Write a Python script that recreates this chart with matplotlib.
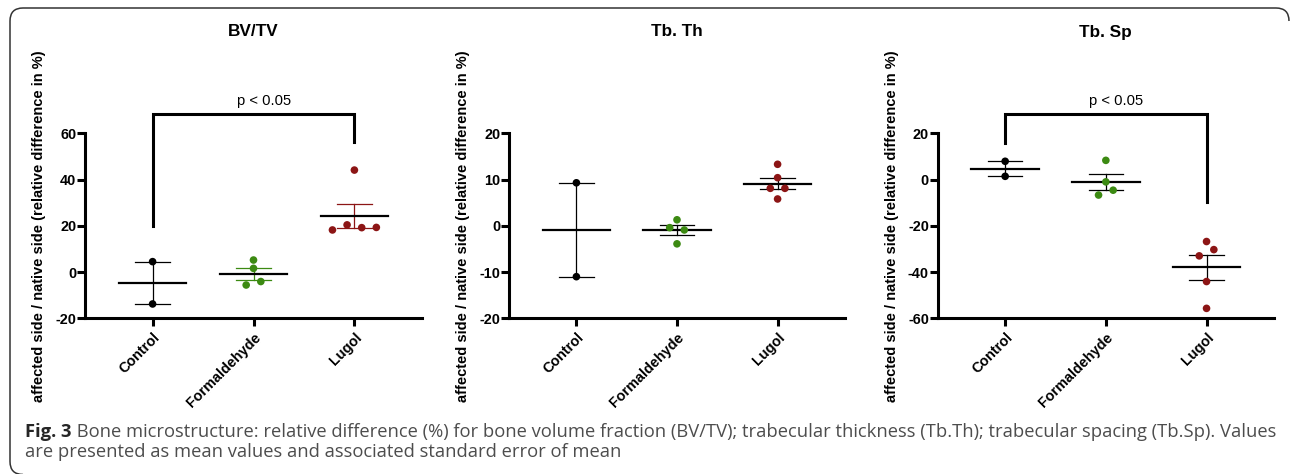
import numpy as np
import matplotlib
matplotlib.use("Agg")
import matplotlib.pyplot as plt
from matplotlib.patches import PathPatch
from matplotlib.path import Path
from matplotlib.transforms import IdentityTransform

plt.rcParams['font.family'] = ['Liberation Sans', 'DejaVu Sans']

# --- data ---
groups = ["Control", "Formaldehyde", "Lugol"]
group_colors = ["#000000", "#3c8a12", "#8c1515"]

bvtv_control = [4.5, -13.8]
bvtv_formaldehyde = [5.2, 1.6, -5.6, -4.1]
bvtv_lugol = [18.2, 20.4, 19.2, 19.3, 44.1]

tbth_control = [9.3, -11.0]
tbth_formaldehyde = [1.3, -0.4, -0.9, -3.9]
tbth_lugol = [13.3, 10.4, 8.1, 8.1, 5.8]

tbsp_control = [7.9, 1.4]
tbsp_formaldehyde = [8.3, -1.0, -6.7, -4.6]
tbsp_lugol = [-26.8, -33.0, -30.3, -44.1, -55.7]

ylabel = "affected side / native side (relative difference in %)"

panels = [
    dict(title="BV/TV", data=[bvtv_control, bvtv_formaldehyde, bvtv_lugol],
         ylim=(-20, 60), yticks=[-20, 0, 20, 40, 60], colored_err=True,
         bracket=(0, 2, 68.2, 20.0, 56.4, "p < 0.05")),
    dict(title="Tb. Th", data=[tbth_control, tbth_formaldehyde, tbth_lugol],
         ylim=(-20, 20), yticks=[-20, -10, 0, 10, 20], colored_err=False,
         bracket=None),
    dict(title="Tb. Sp", data=[tbsp_control, tbsp_formaldehyde, tbsp_lugol],
         ylim=(-60, 20), yticks=[-60, -40, -20, 0, 20], colored_err=False,
         bracket=(0, 2, 28.2, 15.7, -9.8, "p < 0.05")),
]

caption_bold = "Fig. 3"
caption_line1 = (" Bone microstructure: relative difference (%) for bone volume fraction (BV/TV); "
                 "trabecular thickness (Tb.Th); trabecular spacing (Tb.Sp). Values")
caption_line2 = "are presented as mean values and associated standard error of mean"

W, H = 1290, 474
# axes boxes in pixels: left, top, right, bottom
boxes = [(85, 133.3, 422, 318.3), (509, 133.3, 845, 318.3), (937.7, 133.3, 1274, 318.3)]


def swarm_offsets(vals, thr, step):
    # spread points that would overlap side by side (GraphPad-like scatter)
    vals = np.asarray(vals, dtype=float)
    order = np.argsort(vals, kind="stable")
    offs = np.zeros(len(vals))
    clusters, cur = [], [order[0]]
    for a, b in zip(order[:-1], order[1:]):
        if vals[b] - vals[a] < thr:
            cur.append(b)
        else:
            clusters.append(cur)
            cur = [b]
    clusters.append(cur)
    for c in clusters:
        c = sorted(c)
        n = len(c)
        for k, idx in enumerate(c):
            offs[idx] = (k - (n - 1) / 2) * step
    return offs


fig = plt.figure(figsize=(W / 100, H / 100), dpi=100)

for p, (l, t, r, b) in zip(panels, boxes):
    ax = fig.add_axes([l / W, 1 - b / H, (r - l) / W, (b - t) / H])
    ylo, yhi = p["ylim"]
    thr = 0.037 * (yhi - ylo)
    for i, (vals, col) in enumerate(zip(p["data"], group_colors)):
        vals = np.asarray(vals, dtype=float)
        m = vals.mean()
        sem = vals.std(ddof=1) / np.sqrt(len(vals))
        ecol = col if p["colored_err"] else "black"
        ax.plot([i, i], [m - sem, m + sem], color=ecol, lw=0.9, zorder=2)
        for yv in (m - sem, m + sem):
            ax.plot([i - 0.17, i + 0.17], [yv, yv], color=ecol, lw=0.9, zorder=2)
        ax.plot([i - 0.335, i + 0.335], [m, m], color="black", lw=1.6, zorder=2)
        xs = i + swarm_offsets(vals, thr, 0.145)
        ax.scatter(xs, vals, s=30, color=col, edgecolors="none", zorder=3, clip_on=False)

    ax.set_xlim(-0.67, 2.67)
    ax.set_ylim(ylo, yhi)
    ax.set_yticks(p["yticks"])
    ax.set_yticklabels([str(v) for v in p["yticks"]], fontsize=10.4, fontweight="bold")
    ax.set_xticks(range(len(groups)))
    ax.set_xticklabels(groups, rotation=45, ha="right", va="top", rotation_mode="anchor",
                       fontsize=10.4, fontweight="bold")
    for s in ("top", "right"):
        ax.spines[s].set_visible(False)
    for s in ("left", "bottom"):
        ax.spines[s].set_linewidth(2.2)
    ax.tick_params(axis="both", width=2.2, length=5.5, direction="out")
    ax.tick_params(axis="y", pad=0.8)
    ax.tick_params(axis="x", pad=3)

    ax.set_ylabel(ylabel, fontsize=10.5, fontweight="bold", va="center")
    ax.yaxis.set_label_coords(-46 / (r - l), 0.5)
    ax.text(0.5, 1 + (t - 32) / (b - t), p["title"], transform=ax.transAxes,
            ha="center", va="center", fontsize=12.4, fontweight="bold")

    if p["bracket"] is not None:
        i, j, top, lb, rb, txt = p["bracket"]
        ax.plot([i, i, j, j], [lb, top, top, rb], color="black", lw=2.2,
                clip_on=False, solid_joinstyle="miter", zorder=4)
        ax.annotate(txt, xy=((i + j) / 2 + 0.1, top), xytext=(0, 4.5),
                    textcoords="offset points", ha="center", va="bottom",
                    fontsize=10.6, annotation_clip=False)

# caption, sized so the first line spans the same width as in the original
cap_font = ["Open Sans", "DejaVu Sans"]
cap_left, cap_right = 25, 1273
renderer = fig.canvas.get_renderer()
ta = fig.text(cap_left / W, 1 - 437 / H, caption_bold, fontsize=12, fontweight="bold",
              family=cap_font, color="#262626", va="baseline")
tb = fig.text(0, 1 - 437 / H, caption_line1, fontsize=12, family=cap_font,
              color="#4d4d4d", va="baseline")
wa = ta.get_window_extent(renderer).width
wb = tb.get_window_extent(renderer).width
fs = 12 * (cap_right - cap_left) / (wa + wb)
ta.set_fontsize(fs)
tb.set_fontsize(fs)
tb.set_x(ta.get_window_extent(renderer).x1 / W)
fig.text(cap_left / W, 1 - 457 / H, caption_line2, fontsize=fs, family=cap_font,
         color="#4d4d4d", va="baseline")


# open frame: left and top edges with rounded corners (pixel coords, y from top)
def px(x, y):
    return (x, H - y)


frame_path = Path(
    [px(23, 474.5), px(10, 474.5), px(10, 461.5), px(10, 21), px(10, 8), px(23, 8),
     px(1276, 8), px(1289, 8), px(1289, 21)],
    [Path.MOVETO, Path.CURVE3, Path.CURVE3, Path.LINETO, Path.CURVE3, Path.CURVE3,
     Path.LINETO, Path.CURVE3, Path.CURVE3])
fig.patches.append(PathPatch(frame_path, transform=IdentityTransform(), fill=False,
                             ec="#333333", lw=1.1))

fig.savefig("out.png", dpi=100)
